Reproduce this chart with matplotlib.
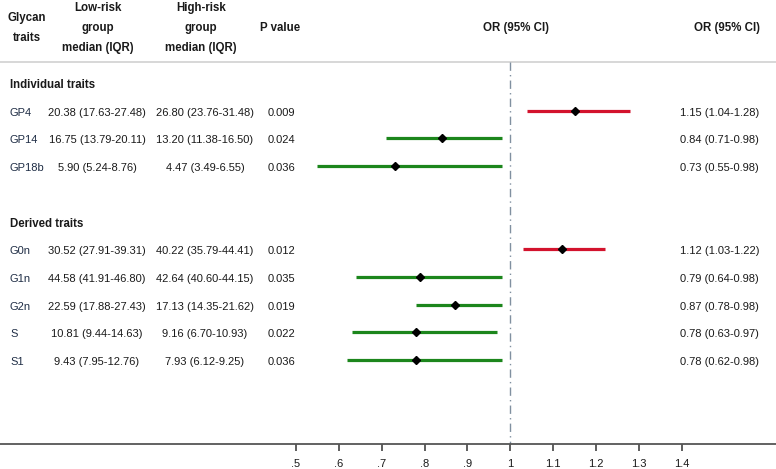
import matplotlib
matplotlib.use("Agg")
import matplotlib.pyplot as plt

plt.rcParams['font.family'] = ['Liberation Sans', 'DejaVu Sans']

# data
ind_traits = ["GP4", "GP14", "GP18b"]
ind_low = ["20.38 (17.63-27.48)", "16.75 (13.79-20.11)", "5.90 (5.24-8.76)"]
ind_high = ["26.80 (23.76-31.48)", "13.20 (11.38-16.50)", "4.47 (3.49-6.55)"]
ind_p = ["0.009", "0.024", "0.036"]
ind_or = [1.15, 0.84, 0.73]
ind_lo = [1.04, 0.71, 0.55]
ind_hi = [1.28, 0.98, 0.98]

der_traits = ["G0n", "G1n", "G2n", "S", "S1"]
der_low = ["30.52 (27.91-39.31)", "44.58 (41.91-46.80)", "22.59 (17.88-27.43)",
           "10.81 (9.44-14.63)", "9.43 (7.95-12.76)"]
der_high = ["40.22 (35.79-44.41)", "42.64 (40.60-44.15)", "17.13 (14.35-21.62)",
            "9.16 (6.70-10.93)", "7.93 (6.12-9.25)"]
der_p = ["0.012", "0.035", "0.019", "0.022", "0.036"]
der_or = [1.12, 0.79, 0.87, 0.78, 0.78]
der_lo = [1.03, 0.64, 0.78, 0.63, 0.62]
der_hi = [1.22, 0.98, 0.98, 0.97, 0.98]

ticks = [.5, .6, .7, .8, .9, 1, 1.1, 1.2, 1.3, 1.4]
tick_labels = [".5", ".6", ".7", ".8", ".9", "1", "1.1", "1.2", "1.3", "1.4"]

W, H = 776, 469
ROW = 27.7          # px per row
AX_BOTTOM = 444     # px from top where axis line sits
RED = "#d3132d"
GREEN = "#1c861c"
TXT = "#1a1a1a"
NAME = "#1f2d45"

fig = plt.figure(figsize=(W / 100, H / 100), dpi=100)
ax = fig.add_axes([0, (H - AX_BOTTOM) / H, 1, AX_BOTTOM / H])
ax.set_xlim(1 - 510.3 / 428.5, 1 + (W - 510.3) / 428.5)
ax.set_ylim(AX_BOTTOM / ROW, 0)

for s in ["top", "right", "left"]:
    ax.spines[s].set_visible(False)
ax.spines["bottom"].set_color("#555555")
ax.spines["bottom"].set_linewidth(1.3)
ax.set_yticks([])
ax.set_xticks(ticks)
ax.set_xticklabels(tick_labels)
ax.tick_params(axis="x", direction="out", length=5, width=1.1, color="#333333",
               labelsize=8, labelcolor=TXT, pad=6)

tr = ax.get_yaxis_transform()  # x in axes fraction, y in data rows


def px(x):
    return x / W


def row_y(p):
    return p / ROW


# header
hb = dict(fontsize=8.3, fontweight="bold", color=TXT, ha="center", va="center", transform=tr)
ax.text(px(27), row_y(18), "Glycan", **hb)
ax.text(px(27), row_y(38), "traits", **hb)
for i, line in enumerate(["Low-risk", "group", "median (IQR)"]):
    ax.text(px(98), row_y(8 + 20 * i), line, **hb)
for i, line in enumerate(["High-risk", "group", "median (IQR)"]):
    ax.text(px(201), row_y(8 + 20 * i), line, **hb)
ax.text(px(280), row_y(28), "P value", **hb)
ax.text(px(516), row_y(28), "OR (95% CI)", **hb)
ax.text(px(760), row_y(28), "OR (95% CI)", **dict(hb, ha="right"))

sep = row_y(62)
ax.plot([0, 1], [sep, sep], transform=tr, color="#d4d4d4", lw=1.3, clip_on=False)

# reference line at OR = 1
ax.plot([1, 1], [sep, AX_BOTTOM / ROW], color="#8090a0", lw=1.0,
        dashes=(6, 3, 1, 3))


def section(title, start, traits, low, high, pv, orv, lo, hi):
    ax.text(px(10), start + 0.07, title, fontsize=8.3, fontweight="bold",
            color=TXT, ha="left", va="center", transform=tr)
    for i in range(len(traits)):
        y = start + 1 + i
        ty = y + 0.07
        ax.text(px(10), ty, traits[i], fontsize=8, color=NAME, ha="left", va="center", transform=tr)
        ax.text(px(97), ty, low[i], fontsize=8, color=TXT, ha="center", va="center", transform=tr)
        ax.text(px(205), ty, high[i], fontsize=8, color=TXT, ha="center", va="center", transform=tr)
        ax.text(px(281), ty, pv[i], fontsize=8, color=TXT, ha="center", va="center", transform=tr)
        ax.text(px(759), ty, "%.2f (%.2f-%.2f)" % (orv[i], lo[i], hi[i]), fontsize=8,
                color=TXT, ha="right", va="center", transform=tr)
        c = RED if orv[i] > 1 else GREEN
        ax.plot([lo[i], hi[i]], [y, y], color=c, lw=2.3, solid_capstyle="butt")
        ax.plot(orv[i], y, marker="D", color="black", markersize=4.5, zorder=3)


section("Individual traits", 3, ind_traits, ind_low, ind_high, ind_p, ind_or, ind_lo, ind_hi)
section("Derived traits", 8, der_traits, der_low, der_high, der_p, der_or, der_lo, der_hi)

fig.savefig("out.png", dpi=100)
